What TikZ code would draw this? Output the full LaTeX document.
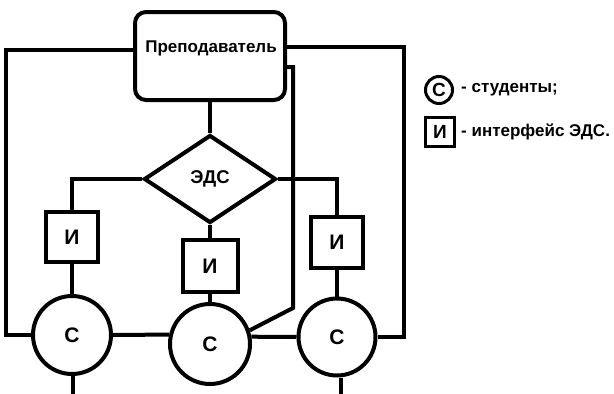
\documentclass[tikz,border=0pt]{standalone}
\usepackage{fontspec}
\setmainfont{Liberation Sans}
\usetikzlibrary{shapes.geometric}
\tikzset{
  ln/.style={line width=4pt},
  boxI/.style={draw, line width=4pt, minimum width=52pt, minimum height=50pt, inner sep=0pt},
  stud/.style={draw, circle, line width=4pt, inner sep=0pt},
  txt/.style={font=\fontsize{17}{20}\selectfont\bfseries, inner sep=0pt},
  btxt/.style={font=\fontsize{18.5}{21}\selectfont\bfseries, inner sep=0pt},
  ltr/.style={font=\fontsize{21}{24}\selectfont\bfseries, inner sep=0pt},
  legtxt/.style={font=\fontsize{17}{20}\selectfont\bfseries, inner sep=0pt, anchor=west},
}
\begin{document}
\begin{tikzpicture}[x=1pt,y=-1pt]
\useasboundingbox (0,0) rectangle (614,394);
% teacher
\node[draw, line width=4pt, rounded corners=11pt, minimum width=150pt, minimum height=88pt] (T) at (210,56) {};
\node[txt] (Tl) at (211,48) {Преподаватель};
% diamond
\node[draw, diamond, line width=4pt, minimum width=132pt, minimum height=88pt, inner sep=0pt, btxt] (D) at (210,179) {ЭДС};
% interface boxes
\node[boxI, ltr] (I1) at (72,237) {И};
\node[boxI, ltr, minimum width=55pt, minimum height=52pt] (I2) at (210,266) {И};
\node[boxI, ltr, minimum height=51pt] (I3) at (337,242) {И};
% students
\node[stud, ltr, minimum size=78pt] (C1) at (72,335) {С};
\node[stud, ltr, minimum size=80pt] (C2) at (210,344) {С};
\node[stud, ltr, minimum size=77pt] (C3) at (337,337) {С};
% connectors
\draw[ln] ([yshift=6pt]T.west) -- ++(-127,0) |- (C1.west);
\draw[ln] ([yshift=9pt]T.east) -- ++(117,0) |- (C3.east);
\coordinate (bend) at (293,308);
\draw[ln] ([yshift=-11pt]T.east) -| (bend) -- (C2.19);
\draw[ln] (T.south) -- (D.north);
\draw[ln] (D.west) -| (I1.north);
\draw[ln] (D.east) -| (I3.north);
\draw[ln] (D.south) -- (I2.north);
\draw[ln] (I1.south) -- (C1.north);
\draw[ln] (I2.south) -- (C2.north);
\draw[ln] (I3.south) -- (C3.north);
\draw[ln] (C1.east) -- (C2.167);
\draw[ln] (C2.10) -- (C3.west);
\coordinate (b1) at (73,396);
\coordinate (b3) at (341,396);
\draw[ln] ([xshift=1pt]C1.south) -- (b1);
\draw[ln] ([xshift=4pt]C3.south) -- (b3);
% legend
\node[draw, circle, line width=3pt, minimum size=27pt, inner sep=0pt, font=\fontsize{19}{21}\selectfont\bfseries] (LC) at (439,90) {С};
\node[legtxt] (LCt) at (461,90) {- студенты;};
\node[draw, line width=3pt, minimum size=29pt, inner sep=0pt, font=\fontsize{19}{21}\selectfont\bfseries] (LI) at (440,132) {И};
\node[legtxt] (LIt) at (461,132) {- интерфейс ЭДС.};
\end{tikzpicture}
\end{document}
